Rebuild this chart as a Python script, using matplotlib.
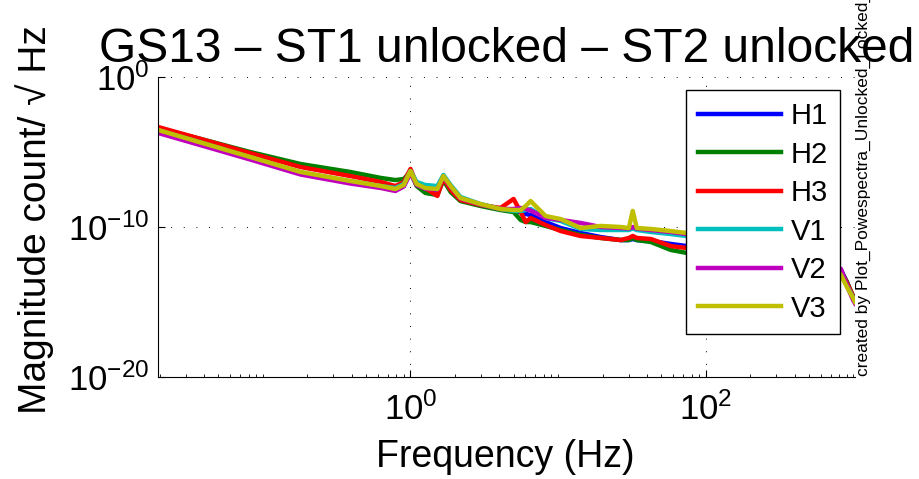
import numpy as np
import matplotlib
matplotlib.use('Agg')
import matplotlib.pyplot as plt
from matplotlib.ticker import FixedLocator, LogLocator, NullLocator, NullFormatter, LogFormatterSciNotation

plt.rcParams['font.family'] = ['Liberation Sans', 'DejaVu Sans']
plt.rcParams['mathtext.fontset'] = 'custom'
plt.rcParams['mathtext.rm'] = 'Liberation Sans'
plt.rcParams['mathtext.it'] = 'Liberation Sans:italic'

# frequency points (Hz)
freq = [0.0195, 0.038, 0.082, 0.18, 0.39, 0.63, 0.79, 0.90, 1.0, 1.10, 1.26, 1.52,
        1.67, 1.87, 2.18, 2.98, 4.07, 4.99, 5.57, 6.03, 6.51, 8.23, 10.4, 14.2,
        19.4, 26.5, 30.1, 32.0, 34.1, 42.4, 57.9, 74.3, 126, 236, 440, 705,
        823, 903, 993, 1024]

# log10 of magnitude (count/sqrt(Hz))
H1 = [-3.60, -4.40, -5.40, -6.40, -7.00, -7.33, -7.53, -7.27, -6.33, -7.20, -7.47, -7.53,
      -6.67, -7.33, -8.13, -8.53, -8.80, -8.93, -9.00, -9.13, -9.20, -9.67, -10.07, -10.40,
      -10.67, -10.87, -10.87, -10.80, -10.87, -10.93, -11.13, -11.27, -11.60, -11.93, -12.27, -12.53,
      -12.87, -13.67, -14.67, -14.93]
H2 = [-3.40, -4.13, -5.00, -5.80, -6.33, -6.73, -6.87, -6.80, -6.33, -7.27, -7.73, -7.87,
      -6.87, -7.67, -8.27, -8.60, -8.87, -9.00, -9.53, -9.67, -9.67, -9.93, -10.20, -10.53,
      -10.73, -10.87, -10.87, -10.73, -10.87, -11.00, -11.53, -11.73, -12.07, -12.33, -12.60, -12.73,
      -12.93, -13.67, -14.60, -14.87]
H3 = [-3.33, -4.13, -5.07, -6.00, -6.60, -7.00, -7.27, -7.00, -6.13, -7.13, -7.40, -7.93,
      -6.73, -7.53, -8.20, -8.53, -8.73, -8.13, -9.00, -9.67, -9.40, -9.87, -10.27, -10.60,
      -10.73, -10.87, -10.73, -10.60, -10.73, -10.80, -11.27, -11.40, -11.80, -12.13, -12.40, -12.67,
      -13.00, -13.73, -14.60, -14.87]
V1 = [-3.55, -4.37, -5.35, -6.35, -6.95, -7.27, -7.40, -7.13, -6.27, -7.00, -7.20, -7.27,
      -6.53, -7.20, -8.00, -8.47, -8.80, -8.93, -8.93, -8.87, -8.80, -9.40, -9.60, -10.13,
      -10.20, -10.20, -10.20, -10.10, -10.20, -10.33, -10.47, -10.60, -11.00, -11.47, -12.00, -12.47,
      -13.10, -13.90, -14.70, -15.00]
V2 = [-3.73, -4.55, -5.50, -6.50, -7.10, -7.40, -7.60, -7.30, -6.40, -7.20, -7.45, -7.50,
      -6.65, -7.30, -8.10, -8.50, -8.80, -8.80, -8.73, -8.80, -8.90, -9.40, -9.53, -9.73,
      -10.00, -10.07, -10.10, -10.00, -10.10, -10.20, -10.33, -10.47, -10.93, -11.40, -11.93, -12.40,
      -12.80, -13.90, -14.87, -15.10]
V3 = [-3.53, -4.37, -5.33, -6.33, -6.93, -7.27, -7.47, -7.20, -6.27, -7.13, -7.40, -7.47,
      -6.60, -7.27, -8.07, -8.47, -8.80, -8.87, -8.87, -8.60, -8.27, -9.27, -9.47, -10.07,
      -9.93, -10.00, -10.07, -8.93, -10.07, -10.13, -10.27, -10.40, -10.87, -11.33, -11.87, -12.33,
      -13.20, -14.00, -14.73, -15.00]

names = ['H1', 'H2', 'H3', 'V1', 'V2', 'V3']
series = [H1, H2, H3, V1, V2, V3]
colors = ['#0000ff', '#008000', '#ff0000', '#00bfbf', '#bf00bf', '#bfbf00']

fig = plt.figure(figsize=(9.19, 4.79), dpi=100)
ax = fig.add_axes([158/919, 102/479, 697/919, 300/479])

f = np.array(freq)
for name, vals, c in zip(names, series, colors):
    ax.loglog(f, 10.0**np.array(vals), color=c, lw=3.2, label=name)

ax.set_xlim(0.0195, 1024)
ax.set_ylim(1e-20, 1e0)

ax.xaxis.set_major_locator(FixedLocator([1e-2, 1e0, 1e2]))
ax.xaxis.set_minor_locator(LogLocator(base=10, subs=np.arange(1, 10), numticks=50))
ax.xaxis.set_minor_formatter(NullFormatter())
ax.xaxis.set_major_formatter(LogFormatterSciNotation())
ax.yaxis.set_major_locator(FixedLocator([1e-20, 1e-10, 1e0]))
ax.yaxis.set_minor_locator(NullLocator())
ax.yaxis.set_major_formatter(LogFormatterSciNotation())

ax.tick_params(which='major', direction='in', length=5, width=0.8, labelsize=25)
ax.tick_params(axis='x', which='major', pad=11)
ax.tick_params(axis='y', which='major', pad=6)
ax.tick_params(which='minor', direction='in', length=2.5, width=0.6)
ax.spines['top'].set_visible(False)
ax.spines['right'].set_visible(False)
ax.grid(True, which='major', color='black', lw=0.7, linestyle=(0, (1, 12)))

leg = ax.legend(loc='upper left', bbox_to_anchor=(0.7575, 0.955), fontsize=21,
                frameon=True, fancybox=False, framealpha=1, edgecolor='black',
                handlelength=2.85, handletextpad=0.35, labelspacing=0.36,
                borderpad=0.4, borderaxespad=0)
leg.get_frame().set_linewidth(1.0)

fig.text(507/919, (479-62)/479, 'GS13 \u2013 ST1 unlocked \u2013 ST2 unlocked',
         ha='center', va='baseline', fontsize=34.5)
fig.text(506/919, (479+11)/479, 'Powerspectra, quiet day (typical)',
         ha='center', va='baseline', fontsize=35)
fig.text(505/919, (479-467)/479, 'Frequency (Hz)', ha='center', va='baseline', fontsize=27)
fig.text(35/919, (479-220)/479, 'Magnitude count/ \u221a Hz', rotation=90,
         ha='center', va='center', fontsize=28)
fig.text(863/919, (479-376)/479, 'created by Plot_Powespectra_Unlocked_Locked_Comparison.m',
         rotation=90, ha='center', va='bottom', fontsize=12.5)

fig.savefig('out.png', dpi=100)
